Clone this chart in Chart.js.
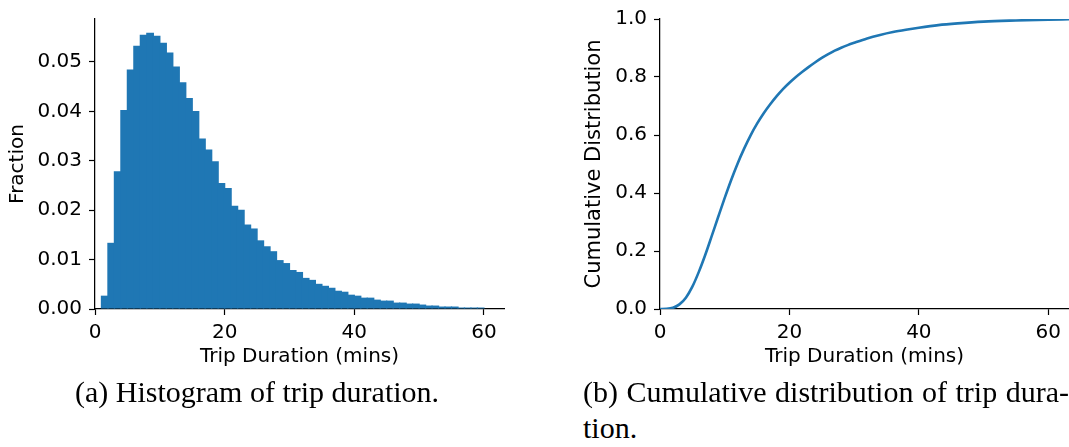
<!DOCTYPE html>
<html>
<head>
<meta charset="utf-8">
<script src="https://cdn.jsdelivr.net/npm/chart.js@4.4.1/dist/chart.umd.min.js"></script>
<style>
  body { margin: 0; background: #fff; }
  #page { position: relative; width: 1069px; height: 447px; overflow: hidden; }
  .plot { position: absolute; top: 0; }
  .caption {
    position: absolute;
    font-family: "Liberation Serif", "DejaVu Serif", serif;
    font-size: 30px;
    line-height: 36px;
    color: #000;
    white-space: nowrap;
  }
</style>
</head>
<body>
<div id="page">
  <div class="plot" style="left:0; width:530px; height:380px;"><canvas id="histChart"></canvas></div>
  <div class="plot" style="left:577px; width:492px; height:380px;"><canvas id="cdfChart"></canvas></div>
  <div class="caption" style="left:75px; top:374px;">(a) Histogram of trip duration.</div>
  <div class="caption" style="left:583px; top:374px; width:486px; text-align:justify; text-align-last:justify;">(b) Cumulative distribution of trip dura-</div>
  <div class="caption" style="left:583px; top:410px;">tion.</div>
</div>
<script>
// one-minute bins, left edge of each bin
const binStart = [1, 2, 3, 4, 5, 6, 7, 8, 9, 10, 11, 12, 13, 14, 15, 16, 17, 18, 19, 20,
    21, 22, 23, 24, 25, 26, 27, 28, 29, 30, 31, 32, 33, 34, 35, 36, 37, 38, 39, 40,
    41, 42, 43, 44, 45, 46, 47, 48, 49, 50, 51, 52, 53, 54, 55, 56, 57, 58, 59, 60, 61, 62];
const fraction = [0.0027, 0.0134, 0.0279, 0.0403, 0.0485, 0.0533, 0.0555, 0.0559, 0.0553, 0.0539,
    0.0519, 0.0491, 0.0459, 0.0427, 0.0401, 0.0345, 0.0323, 0.0299, 0.0255, 0.0245,
    0.0209, 0.0201, 0.0171, 0.0163, 0.0139, 0.0127, 0.0117, 0.0099, 0.0093, 0.0079,
    0.0075, 0.0063, 0.0059, 0.0051, 0.0047, 0.0043, 0.0037, 0.0035, 0.0029, 0.0027,
    0.0023, 0.0023, 0.0019, 0.0017, 0.0017, 0.0013, 0.0013, 0.0011, 0.0011, 0.0009,
    0.0007, 0.0007, 0.0005, 0.0005, 0.0005, 0.0003, 0.0003, 0.0003, 0.0003, 0.0001, 0.0001, 0.0001];

// cumulative distribution
const cdfMinutes = [0, 1, 2, 3, 4, 5, 6, 7, 8, 9, 10, 11, 12, 13, 14, 15, 16, 17, 18, 19, 20,
    21, 22, 23, 24, 25, 26, 27, 28, 29, 30, 32, 34, 36, 38, 40, 43, 46, 50, 55, 60, 63.2];
const cdfValue = [0, 0.0005, 0.004, 0.016, 0.039, 0.077, 0.128, 0.187, 0.252, 0.318, 0.383,
    0.445, 0.502, 0.553, 0.599, 0.639, 0.674, 0.705, 0.733, 0.758, 0.780,
    0.800, 0.818, 0.835, 0.851, 0.866, 0.879, 0.891, 0.901, 0.910, 0.918,
    0.933, 0.945, 0.955, 0.963, 0.970, 0.979, 0.985, 0.991, 0.995, 0.998, 0.999];

const minuteTicks = [0, 20, 40, 60];
const fractionTicks = [0, 0.01, 0.02, 0.03, 0.04, 0.05];
const cdfTicks = [0, 0.2, 0.4, 0.6, 0.8, 1.0];

const BLUE = '#1f77b4';

Chart.defaults.font.family = 'DejaVu Sans';
Chart.defaults.font.size = 20;
Chart.defaults.color = '#000';
Chart.defaults.animation = false;

function fixedTicks(values) {
    return scale => { scale.ticks = values.map(v => ({value: v})); };
}

function xAxis(max) {
    return {
        type: 'linear',
        min: 0,
        max: max,
        offset: false,
        afterBuildTicks: fixedTicks(minuteTicks),
        afterFit: s => { s.height = 71; },
        grid: {offset: false, drawOnChartArea: false, drawTicks: true, tickLength: 6, tickWidth: 1.2, tickColor: '#000'},
        border: {display: true, color: '#000', width: 1.25},
        ticks: {padding: 6, maxRotation: 0, autoSkip: false, callback: v => String(v)},
        title: {display: true, text: 'Trip Duration (mins)', padding: {top: 0, bottom: 11}}
    };
}

function yAxis(max, ticks, digits, width, label, titleSize, titlePad) {
    return {
        min: 0,
        max: max,
        afterBuildTicks: fixedTicks(ticks),
        afterFit: s => { s.width = width; },
        grid: {drawOnChartArea: false, drawTicks: true, tickLength: 6, tickWidth: 1.2, tickColor: '#000'},
        border: {display: true, color: '#000', width: 1.25},
        ticks: {padding: 7, autoSkip: false, callback: v => v.toFixed(digits)},
        title: {display: true, text: label, font: {size: titleSize}, padding: {top: titlePad, bottom: 0}}
    };
}

const quiet = {legend: {display: false}, tooltip: {enabled: false}};

// bars slightly wider than a bin so neighbours overlap and no seams show
new Chart(document.getElementById('histChart'), {
    type: 'bar',
    data: {
        datasets: [{
            data: binStart.map((b, i) => ({x: b + 0.5, y: fraction[i]})),
            backgroundColor: BLUE,
            borderWidth: 0,
            barPercentage: 1.2,
            categoryPercentage: 1
        }]
    },
    options: {
        responsive: true,
        maintainAspectRatio: false,
        layout: {padding: {top: 14, right: 26, left: 0, bottom: 0}},
        scales: {
            x: xAxis(63.1),
            y: yAxis(0.0587, fractionTicks, 2, 95, 'Fraction', 20, 6)
        },
        plugins: quiet
    }
});

new Chart(document.getElementById('cdfChart'), {
    type: 'line',
    data: {
        datasets: [{
            data: cdfMinutes.map((m, i) => ({x: m, y: cdfValue[i]})),
            borderColor: BLUE,
            borderWidth: 2.6,
            pointRadius: 0,
            fill: false,
            cubicInterpolationMode: 'monotone'
        }]
    },
    options: {
        responsive: true,
        maintainAspectRatio: false,
        layout: {padding: {top: 14, right: 0, left: 0, bottom: 0}},
        scales: {
            x: xAxis(63.2),
            y: yAxis(1.0, cdfTicks, 1, 83, 'Cumulative Distribution', 21, 5)
        },
        plugins: quiet
    }
});
</script>
</body>
</html>
